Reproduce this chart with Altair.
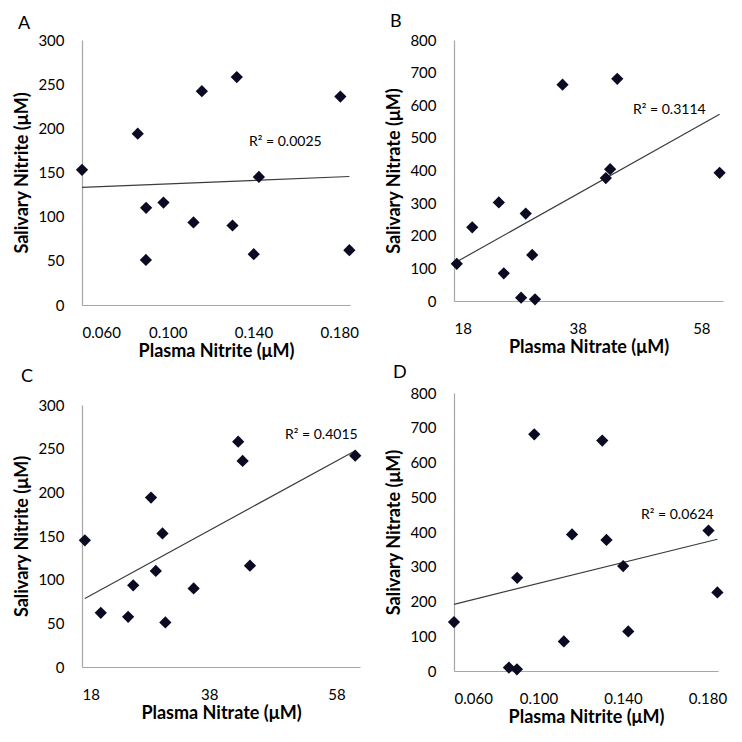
import altair as alt
import pandas as pd

plasma_nitrite = [0.1425, 0.1847, 0.1401, 0.1120, 0.0860, 0.0899, 0.0600, 0.0898, 0.1302, 0.1322, 0.1805, 0.0980, 0.1159]
plasma_nitrate = [18.45, 20.95, 25.25, 26.05, 28.85, 29.6, 30.65, 31.1, 35.55, 42.55, 43.25, 44.4, 60.95]
salivary_nitrite = [145, 62, 57.5, 93.5, 194, 110, 153, 51, 90, 258, 236, 116, 242]
salivary_nitrate = [114, 226, 302, 85, 10, 268, 141, 5, 663, 377, 404, 681, 393]

r2_labels = ["R² = 0.0025", "R² = 0.3114", "R² = 0.4015", "R² = 0.0624"]
panel_letters = ["A", "B", "C", "D"]

nitrite_ticks = [0.06, 0.10, 0.14, 0.18]
nitrate_ticks = [18, 38, 58]
sal_nitrite_ticks = [0, 50, 100, 150, 200, 250, 300]
sal_nitrate_ticks = [0, 100, 200, 300, 400, 500, 600, 700, 800]

df = pd.DataFrame({
    "pni": plasma_nitrite,
    "pna": plasma_nitrate,
    "sni": salivary_nitrite,
    "sna": salivary_nitrate,
})

FONT = "Lato"


def panel(letter, xf, yf, xtitle, ytitle, xdom, xvals, xfmt, ydom, yvals,
          r2, r2x, r2y, w, h, toff, ytp, tdx):
    x = alt.X(f"{xf}:Q",
              scale=alt.Scale(domain=xdom, nice=False, zero=False),
              axis=alt.Axis(values=xvals, format=xfmt, title=xtitle))
    y = alt.Y(f"{yf}:Q",
              scale=alt.Scale(domain=ydom, nice=False, zero=False),
              axis=alt.Axis(values=yvals, format="d", title=ytitle, titlePadding=ytp))
    base = alt.Chart(df)
    line = base.transform_regression(xf, yf).mark_line(
        color="#3c3c3c", strokeWidth=1.2).encode(x=x, y=y)
    pts = base.mark_point(shape="diamond", filled=True, size=150,
                          color="#0a0a22", opacity=1).encode(x=x, y=y)
    txt = alt.Chart(pd.DataFrame({"t": [r2]})).mark_text(
        align="left", baseline="middle", fontSize=14, font=FONT,
        color="#000000").encode(text="t:N", x=alt.value(r2x), y=alt.value(r2y))
    return alt.layer(line, pts, txt).properties(
        width=w, height=h,
        title=alt.TitleParams(letter, anchor="start", frame="bounds",
                              fontSize=18, fontWeight="normal", font=FONT,
                              color="#000000", offset=toff, dx=tdx))


pA = panel(panel_letters[0], "pni", "sni", "Plasma Nitrite (μM)", "Salivary Nitrite (μM)",
           [0.06, 0.185], nitrite_ticks, ".3f", [0, 300], sal_nitrite_ticks,
           r2_labels[0], 167, 102, 268, 265, 0, 6, 4)
pB = panel(panel_letters[1], "pna", "sna", "Plasma Nitrate (μM)", "Salivary Nitrate (μM)",
           [18, 61.5], nitrate_ticks, "d", [0, 800], sal_nitrate_ticks,
           r2_labels[1], 179, 70, 269, 261, 2, 6, 4)
pC = panel(panel_letters[2], "pna", "sni", "Plasma Nitrate (μM)", "Salivary Nitrite (μM)",
           [18, 61.7], nitrate_ticks, "d", [0, 300], sal_nitrite_ticks,
           r2_labels[2], 203, 30, 278, 262, 12, 6, 7)
pD = panel(panel_letters[3], "pni", "sna", "Plasma Nitrite (μM)", "Salivary Nitrate (μM)",
           [0.06, 0.185], nitrite_ticks, ".3f", [0, 800], sal_nitrate_ticks,
           r2_labels[3], 187, 122, 264, 278, 4, 6, 7)

chart = alt.hconcat(
    alt.vconcat(pA, pC, spacing=8),
    alt.vconcat(pB, pD, spacing=8),
    spacing=23,
).properties(
    background="white",
).configure_axis(
    grid=False,
    ticks=False,
    domainColor="#a6a6a6",
    domainWidth=1.2,
    labelFont=FONT,
    labelFontSize=15,
    labelColor="#000000",
    titleFont=FONT,
    titleFontSize=18,
    titleFontWeight="bold",
    titleColor="#000000",
).configure_axisX(
    labelPadding=20,
    titlePadding=2,
).configure_axisY(
    labelPadding=18,
).configure_view(
    stroke=None,
)

chart.save("out.html", embed_options={"renderer": "svg", "actions": False})
